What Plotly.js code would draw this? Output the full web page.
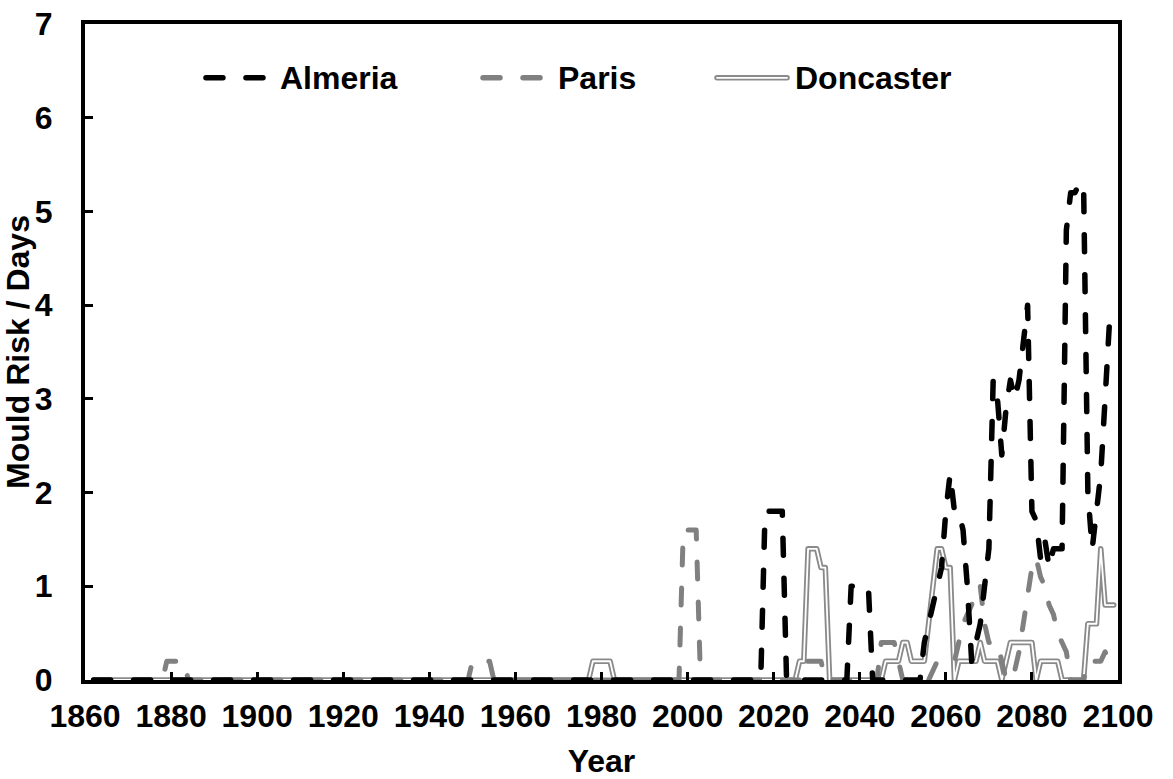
<!DOCTYPE html>
<html>
<head>
<meta charset="utf-8">
<script src="https://cdn.plot.ly/plotly-3.0.1.min.js"></script>
<style>
  html, body { margin: 0; padding: 0; background: #fff; }
  #chart { width: 1173px; height: 779px; }
  .scatterlayer .js-line, .shapelayer path { stroke-linecap: round; stroke-linejoin: round; }
</style>
</head>
<body>
<div id="chart"></div>
<script>
// ---- data (5-year running mould risk, days) ----
const seriesNames = ['Almeria', 'Paris', 'Doncaster'];

const almeriaYears  = [1862, 2017, 2018, 2022, 2023, 2037, 2038, 2042, 2043, 2054, 2055, 2056, 2057, 2058, 2059, 2060, 2061, 2062, 2063, 2064, 2065, 2066, 2067, 2068, 2069, 2070, 2071, 2072, 2073, 2074, 2075, 2076, 2077, 2078, 2079, 2080, 2081, 2082, 2083, 2084, 2085, 2086, 2087, 2088, 2089, 2090, 2091, 2092, 2093, 2094, 2095, 2096, 2097, 2098];
const almeriaValues = [0,    0,    1.8,  1.8,  0,    0,    1.0,  1.0,  0,    0,    0.4,  0.6,  0.8,  1.0,  1.2,  1.8,  2.2,  1.8,  1.8,  1.6,  1.0,  0.2,  0.4,  0.6,  1.0,  1.4,  3.2,  3.0,  2.4,  2.9,  3.2,  3.0,  3.2,  3.6,  4.0,  1.8,  1.7,  1.3,  1.5,  1.2,  1.4,  1.4,  1.4,  4.8,  5.2,  5.2,  5.3,  5.3,  2.0,  1.4,  1.8,  2.2,  3.0,  3.8];

const parisYears  = [1862, 1878, 1879, 1883, 1884, 1949, 1950, 1954, 1955, 1998, 1999, 2002, 2003, 2026, 2027, 2031, 2032, 2044, 2045, 2048, 2049, 2050, 2056, 2058, 2062, 2063, 2064, 2065, 2066, 2067, 2068, 2069, 2070, 2071, 2072, 2073, 2074, 2075, 2076, 2077, 2078, 2079, 2080, 2081, 2082, 2083, 2084, 2085, 2086, 2087, 2088, 2089, 2092, 2093, 2096, 2097, 2098, 2099];
const parisValues = [0,    0,    0.2,  0.2,  0,    0,    0.2,  0.2,  0,    0,    1.6,  1.6,  0,    0,    0.2,  0.2,  0,    0,    0.4,  0.4,  0.2,  0,    0,    0.2,  0.2,  0.4,  0.6,  0.7,  0.8,  1.0,  1.0,  0.6,  0.4,  0.4,  0.4,  0.2,  0,    0,    0.1,  0.3,  0.6,  0.9,  1.2,  1.3,  1.1,  1.0,  0.8,  0.7,  0.5,  0.4,  0.3,  0,    0,    0.2,  0.2,  0.3,  0.2,  0.2];

const doncasterYears  = [1862, 1977, 1978, 1982, 1983, 2025, 2026, 2027, 2028, 2030, 2031, 2032, 2033, 2045, 2046, 2049, 2050, 2051, 2052, 2055, 2056, 2057, 2058, 2059, 2060, 2061, 2062, 2063, 2067, 2068, 2069, 2072, 2073, 2074, 2075, 2080, 2081, 2082, 2086, 2087, 2092, 2093, 2095, 2096, 2097, 2099];
const doncasterValues = [0,    0,    0.2,  0.2,  0,    0,    0.2,  0.2,  1.4,  1.4,  1.2,  1.2,  0,    0,    0.2,  0.2,  0.4,  0.4,  0.2,  0.2,  0.6,  1.0,  1.4,  1.4,  1.2,  1.2,  0,    0.2,  0.2,  0.4,  0.2,  0.2,  0,    0.2,  0.4,  0.4,  0,    0.2,  0.2,  0,    0,    0.6,  0.6,  1.4,  0.8,  0.8];

const yearTicks = [1860, 1880, 1900, 1920, 1940, 1960, 1980, 2000, 2020, 2040, 2060, 2080, 2100];
const riskTicks = [0, 1, 2, 3, 4, 5, 6, 7];

// ---- styles ----
const FONT = 'Liberation Sans, Arial, sans-serif';
const BLACK = '#000000';
const GREY = '#808080';
const DGREY = '#8a8a8a';
const DASH = '17px,23px';

// Doncaster drawn first (double line), then Paris, then Almeria on top
const traces = [
  { x: doncasterYears, y: doncasterValues, name: seriesNames[2], type: 'scatter', mode: 'lines',
    line: { color: DGREY, width: 5.5 }, showlegend: false },
  { x: doncasterYears, y: doncasterValues, name: seriesNames[2] + ' (inner)', type: 'scatter', mode: 'lines',
    line: { color: '#ffffff', width: 1.8 }, showlegend: false, hoverinfo: 'skip' },
  { x: parisYears, y: parisValues, name: seriesNames[1], type: 'scatter', mode: 'lines',
    line: { color: GREY, width: 5, dash: DASH }, showlegend: false },
  { x: almeriaYears, y: almeriaValues, name: seriesNames[0], type: 'scatter', mode: 'lines',
    line: { color: BLACK, width: 5.5, dash: DASH }, showlegend: false }
];

// ---- legend (drawn in paper coordinates) ----
const legY = 0.918;
const legendItems = [
  { name: seriesNames[0], x0: 0.1171, x1: 0.1743, tx: 0.1868, color: BLACK, dash: DASH, dbl: false },
  { name: seriesNames[1], x0: 0.3853, x1: 0.4414, tx: 0.4560, color: GREY, dash: DASH, dbl: false },
  { name: seriesNames[2], x0: 0.6118, x1: 0.6796, tx: 0.6854, color: DGREY, dash: 'solid', dbl: true }
];
const shapes = [];
const annotations = [];
legendItems.forEach(it => {
  shapes.push({ type: 'line', xref: 'paper', yref: 'paper', x0: it.x0, x1: it.x1, y0: legY, y1: legY,
    line: { color: it.color, width: 5.5, dash: it.dash } });
  if (it.dbl) {
    shapes.push({ type: 'line', xref: 'paper', yref: 'paper', x0: it.x0, x1: it.x1, y0: legY, y1: legY,
      line: { color: '#ffffff', width: 1.8 } });
  }
  annotations.push({ xref: 'paper', yref: 'paper', x: it.tx, y: legY, xanchor: 'left', yanchor: 'middle',
    text: it.name, showarrow: false, font: { family: FONT, size: 32, color: BLACK, weight: 700 } });
});

const layout = {
  width: 1173, height: 779,
  margin: { l: 85, r: 55, t: 24, b: 99 },
  paper_bgcolor: '#ffffff', plot_bgcolor: '#ffffff',
  showlegend: false,
  font: { family: FONT, size: 32, color: BLACK, weight: 700 },
  xaxis: {
    range: [1860, 2100], tickvals: yearTicks, ticktext: yearTicks.map(String),
    ticks: 'inside', ticklen: 8, tickwidth: 3, tickcolor: BLACK,
    showline: true, linewidth: 4, linecolor: BLACK, mirror: true,
    showgrid: false, zeroline: false,
    tickfont: { family: FONT, size: 32, color: BLACK, weight: 700 },
    ticklabelstandoff: 5,
    automargin: false,
    title: { text: 'Year', font: { family: FONT, size: 32, color: BLACK, weight: 700 }, standoff: 18 }
  },
  yaxis: {
    range: [0, 7], tickvals: riskTicks,
    ticks: 'inside', ticklen: 8, tickwidth: 3, tickcolor: BLACK,
    showline: true, linewidth: 4, linecolor: BLACK, mirror: true,
    showgrid: false, zeroline: false,
    tickfont: { family: FONT, size: 32, color: BLACK, weight: 700 },
    ticklabelstandoff: 22,
    automargin: false,
    title: { text: 'Mould Risk / Days', font: { family: FONT, size: 32, color: BLACK, weight: 700 }, standoff: 0 }
  },
  shapes: shapes,
  annotations: annotations
};

Plotly.newPlot('chart', traces, layout, { displayModeBar: false, staticPlot: true });
</script>
</body>
</html>
